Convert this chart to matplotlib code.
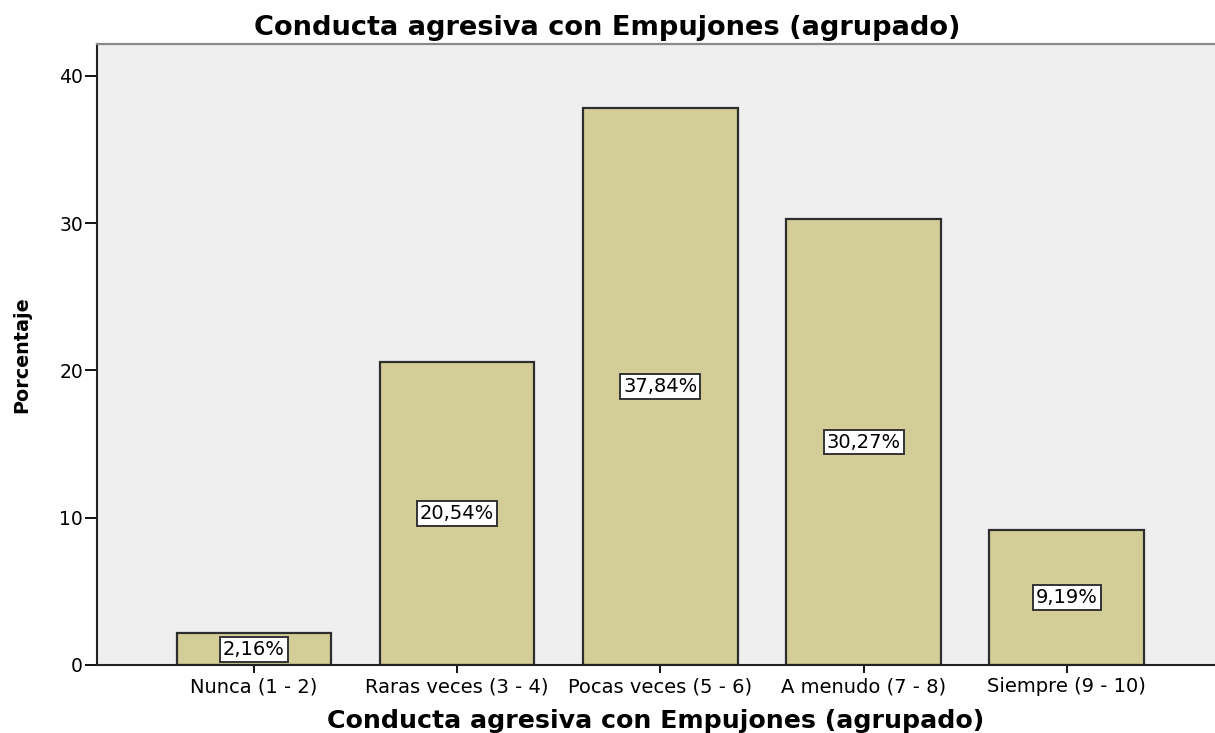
import numpy as np
import matplotlib
matplotlib.use("Agg")
import matplotlib.pyplot as plt

# data
categories = ["Nunca (1 - 2)", "Raras veces (3 - 4)", "Pocas veces (5 - 6)",
              "A menudo (7 - 8)", "Siempre (9 - 10)"]
percent = [2.16, 20.54, 37.84, 30.27, 9.19]
labels = ["2,16%", "20,54%", "37,84%", "30,27%", "9,19%"]
yticks = [0, 10, 20, 30, 40]
title = "Conducta agresiva con Empujones (agrupado)"

plt.rcParams["font.family"] = ["DejaVu Sans"]

fig = plt.figure(figsize=(12.15, 7.33), dpi=100)
ax = fig.add_axes([97 / 1215, 68 / 733, 1 - 97 / 1215, (665 - 44) / 733])
ax.set_facecolor("#efefef")

x = np.arange(len(categories))
ax.bar(x, percent, width=0.76, color="#d3ce97", edgecolor="#2e2e2e", linewidth=1.6)

for xi, v, lab in zip(x, percent, labels):
    ax.text(xi, v / 2, lab, ha="center", va="center", fontsize=14,
            bbox=dict(boxstyle="square,pad=0.15", fc="white", ec="#333333", lw=1.4))

ax.set_xlim(-0.773, 4.73)
ax.set_ylim(0, 42.16)
ax.set_xticks(x)
ax.set_xticklabels(categories, fontsize=14)
ax.set_yticks(yticks)
ax.set_yticklabels([str(t) for t in yticks], fontsize=13.5)
ax.tick_params(axis="y", length=9, width=1.3, pad=1)
ax.tick_params(axis="x", length=6, width=1.3, pad=3)

for s in ["left", "bottom"]:
    ax.spines[s].set_color("#222222")
    ax.spines[s].set_linewidth(1.5)
ax.spines["top"].set_color("#8a8a8a")
ax.spines["top"].set_linewidth(1.6)
ax.spines["right"].set_visible(False)

fig.text(0.5, 0.962, title, ha="center", va="center", fontsize=19.6, fontweight="bold")
ax.set_xlabel(title, fontsize=18.2, fontweight="bold", labelpad=9)
ax.set_ylabel("Porcentaje", fontsize=13.8, fontweight="bold", labelpad=20)

fig.savefig("out.png", dpi=100)
